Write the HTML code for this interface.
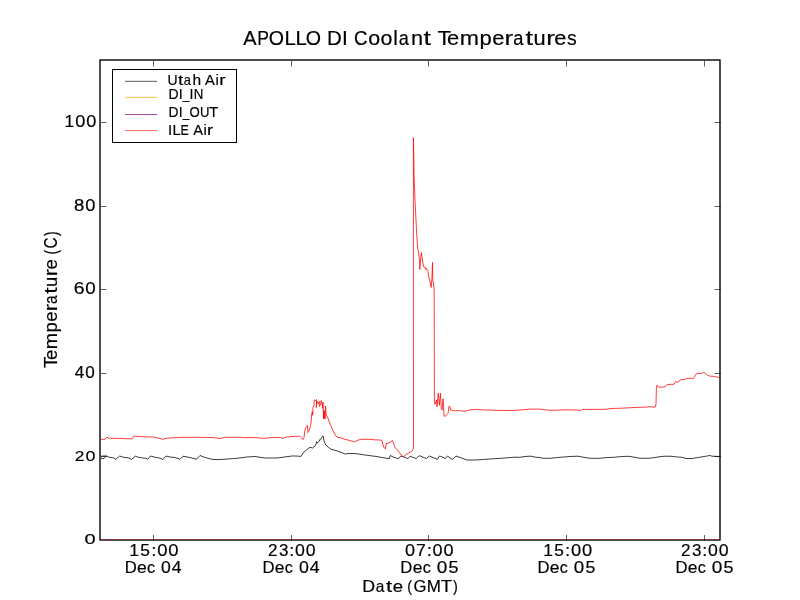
<!DOCTYPE html>
<html><head><meta charset="utf-8"><style>
html,body{margin:0;padding:0;background:#fff;}
svg{display:block;will-change:transform;}
text{font-family:"Liberation Sans",sans-serif;fill:#000;font-kerning:none;stroke:#000;stroke-width:0.18px;}
</style></head><body>
<svg width="800" height="600" viewBox="0 0 800 600">
<rect width="800" height="600" fill="#fff"/>
<defs><clipPath id="ax"><rect x="100" y="60" width="620" height="480"/></clipPath></defs>
<g clip-path="url(#ax)" fill="none" stroke-linejoin="round" stroke-linecap="butt">
<polyline points="106.4,455.9 108.9,457.2 112,457.5 113.9,458.1 115.8,459.25 119.6,456.1 121.75,456.6 123.9,457.4 128,457.8 131.75,459.4 135.2,456.1 138,457.2 141.75,457.8 146.1,458.4 147.5,459.4 150.5,456 155,457.2 160,458.2 163,459.5 166,456 170,457 175,457.5 180,459.3 183,456.2 190,457.5 196.5,459.3 200,455.5 205,457.5 213,459.5 220,459.5 235,458.5 247,457 255,456.5 265,458 277,458 292,456 296,456 301,456.4 303.5,452.5 306,450.25 310,447.25 312.5,448 315,446 316.25,443.5 316.5,441.75 317,443 319.25,441.25 319.5,439.75 320.5,439.75 321.5,438 322,437 322.75,436 323.5,436.5 323.75,440 324.5,442.5 326,445 328.5,447.5 331,449.25 334,450 336,450.5 340,452 346,454.3 347,453.5 355,453.5 365,455 375,456.3 388,458.5 389,459 390.5,455.3 392,456.5 396,458 398,458.7 401,456 404,457 408,458.7 410,456.3 416.3,458.5 419.3,455.7 426.3,458.5 429.3,456 437.3,459.3 439.5,456 445.5,458.5 447.5,456 452.5,459.5 456,456 463,458.5 467,460 475,460 490,459 505,458 515,457.2 520,457.3 525,456.5 530,456.2 532,456.3 535,457.2 540,457.5 543,458.3 550,458.3 560,457.3 570,456.5 578,456.2 582,457 590,458.3 600,458.3 605,457.7 615,457.2 622,456.5 628,456.3 630,456.5 635,457.3 640,458.3 650,458.2 655,457.5 660,456.7 665,456.2 672,456.3 678,457.1 682,457.3 686,458.5 692,458.5 697,457.7 703,456.7 710,455.5 712,456.2 721,456.5" stroke="#000" stroke-width="1.0" stroke-opacity="0.76"/>
<path d="M100,458.4 L104,458.5 L106.4,455.9 M100,456.2 L106.4,455.9" stroke="#000" stroke-width="1.0" stroke-opacity="0.76"/>
<polyline points="99,439.3 105,439.3 106,437.8 107,437.2 108.5,438.2 120,438.5 130,438.8 132,439 133.5,436.5 135,436.2 145,436.8 155,437.2 157,437.8 163,439.3 165,438.8 167,438.2 178,437.5 180,437.4 195,437.3 213,437.5 218,438.3 222,438.3 224,437.3 235,437.3 240,437.2 245,437.8 250,437.4 255,437.6 260,438 265,438.3 270,437.7 275,437.4 280,437.5 283,438.3 286,437.2 287.5,436.3 288.5,437.2 290,436.5 299.5,436.25 301,437.75 303.25,439.5 304,437.5 304.5,433 305,430 306,427.5 307.4,425.4 308,432.5 309.25,430.4 310.5,425.5 311.25,421 311.5,415 312.3,411.5 312.6,415.3 313,411 312.75,408.5 313.25,406.5 314,406 314.25,400 315.5,400.5 316.5,399.5 316.25,407.5 317,401 318.5,404 319.25,401.5 319.5,406.5 320.5,404.5 321.25,400.5 322,403.5 322.5,408.5 323,402 323.25,410 323.5,418.5 323.8,410 324.2,419 324.6,411.5 325,419 325.3,412 325.5,406 326,413 326.5,416 327.5,417 329,421 330.75,425.5 333,430.8 336,436.25 338,437.5 340,437.5 345,439.3 350,440.5 354.5,442 355,441.5 357,440.5 361,439.3 370,439.3 374,439.8 380,440 382,440.5 383,445 384,447.8 385.5,448.5 386,445 386.5,443 388,443.5 392.5,440.5 395,447.5 397,449.5 402,456 403.5,457 405,455.3 409,452.7 412,451.3 413,449.3 413.5,447.7 413.4,137.6 413.9,160 414.1,175 415,200 416.5,230 417.5,247 418.5,252 419.5,260 419.8,269.5 420.5,260 421.4,252.5 423,264 423.8,267 425.5,267.5 426,269.5 426.5,268.5 427.8,270.5 429,278 430.2,282 431.2,287.5 432,277 432.5,262.5 432.8,280 433.5,284 434.2,290 434.4,401.3 435,404.3 436,401.3 436.5,400 437,406.7 438.3,393 439.3,405.3 440.5,393.3 441.3,408.7 442.2,410 443,398.7 443.5,405.3 444,416 445.3,416.3 447,414.3 448,413.3 449,406.7 449.5,406 450.7,410 453,410.5 456,411 458,410.5 462,411 465,411.25 468,410.25 475,409.4 485,410 490,410 495,410.4 510,410.5 520,410 530,409.1 540,409.1 545,409.75 550,410.3 555,410.25 565,409.75 575,410 581,410.4 582,409.4 600,409.4 608,409.1 610,408.5 620,408.25 630,407.75 640,407.25 645,407.2 650,406.7 655,407.2 656,404.3 656.4,387.9 657,385.2 658.5,387.1 662.3,387.2 665.2,386.5 667.1,384.8 670,384.3 673.9,384.3 675.8,381.4 676.8,382.6 681.1,379.7 685.4,379 690.2,378.1 693.1,378.6 694.1,377.8 696,374.2 698,373.3 701.8,373.3 703.7,372.3 705.6,373.5 707.6,375.4 710.4,376.2 714.3,376.4 719.1,377.5 721,377.8" stroke="#f00" stroke-width="1.0" stroke-opacity="0.76"/>
</g>
<g fill="#4e4e4e">
<rect x="100" y="59" width="620" height="2"/>
<rect x="100" y="540" width="620" height="1"/>
<rect x="99" y="60" width="2" height="480"/>
<rect x="719" y="60" width="2" height="480"/>
<rect x="100" y="540" width="1" height="1"/><rect x="719" y="540" width="1" height="1"/>
</g>
<g fill="#8c8c8c"><rect x="99" y="59" width="1" height="1"/><rect x="720" y="59" width="1" height="1"/><rect x="99" y="540" width="1" height="1"/><rect x="720" y="540" width="1" height="1"/></g>
<rect x="101" y="539" width="618" height="1" fill="#87373f"/>
<g fill="#1c1c1c"><rect x="100" y="60" width="1" height="1"/><rect x="719" y="60" width="1" height="1"/></g>
<g fill="#5c1f27"><rect x="100" y="539" width="1" height="1"/><rect x="719" y="539" width="1" height="1"/></g>
<g fill="#000" fill-opacity="0.62">
<rect x="153" y="535" width="1" height="6"/>
<rect x="153" y="61" width="1" height="5"/>
<rect x="153" y="66" width="1" height="1" fill-opacity="0.3"/>
<rect x="291" y="535" width="1" height="6"/>
<rect x="291" y="61" width="1" height="5"/>
<rect x="291" y="66" width="1" height="1" fill-opacity="0.3"/>
<rect x="428" y="535" width="1" height="6"/>
<rect x="428" y="61" width="1" height="5"/>
<rect x="428" y="66" width="1" height="1" fill-opacity="0.3"/>
<rect x="566" y="535" width="1" height="6"/>
<rect x="566" y="61" width="1" height="5"/>
<rect x="566" y="66" width="1" height="1" fill-opacity="0.3"/>
<rect x="704" y="535" width="1" height="6"/>
<rect x="704" y="61" width="1" height="5"/>
<rect x="704" y="66" width="1" height="1" fill-opacity="0.3"/>
<rect x="101" y="122" width="5" height="1"/>
<rect x="106" y="122" width="1" height="1" fill-opacity="0.3"/>
<rect x="715" y="122" width="6" height="1"/>
<rect x="714" y="122" width="1" height="1" fill-opacity="0.3"/>
<rect x="101" y="206" width="5" height="1"/>
<rect x="106" y="206" width="1" height="1" fill-opacity="0.3"/>
<rect x="715" y="206" width="6" height="1"/>
<rect x="714" y="206" width="1" height="1" fill-opacity="0.3"/>
<rect x="101" y="289" width="5" height="1"/>
<rect x="106" y="289" width="1" height="1" fill-opacity="0.3"/>
<rect x="715" y="289" width="6" height="1"/>
<rect x="714" y="289" width="1" height="1" fill-opacity="0.3"/>
<rect x="101" y="373" width="5" height="1"/>
<rect x="106" y="373" width="1" height="1" fill-opacity="0.3"/>
<rect x="715" y="373" width="6" height="1"/>
<rect x="714" y="373" width="1" height="1" fill-opacity="0.3"/>
<rect x="101" y="456" width="5" height="1"/>
<rect x="106" y="456" width="1" height="1" fill-opacity="0.3"/>
<rect x="715" y="456" width="6" height="1"/>
<rect x="714" y="456" width="1" height="1" fill-opacity="0.3"/>
</g>
<rect x="112.5" y="69.5" width="124" height="73" fill="#fff" stroke="#000" stroke-width="1"/>
<rect x="125" y="80" width="32" height="1" fill="#e2e2e2"/>
<rect x="125" y="81" width="32" height="1" fill="#777"/>
<rect x="125" y="96" width="32" height="1" fill="#fff5e2"/>
<rect x="125" y="97" width="32" height="1" fill="#ffc965"/>
<rect x="125" y="114" width="32" height="1" fill="#a548a8"/>
<rect x="125" y="130" width="32" height="1" fill="#ff7878"/>
<rect x="125" y="131" width="32" height="1" fill="#fff0f0"/>
<text transform="translate(243.16,45.00) scale(0.972,1)" font-size="20.567">A</text>
<text transform="translate(257.13,45.00) scale(0.853,1)" font-size="20.567">P</text>
<text transform="translate(268.77,45.00) scale(0.954,1)" font-size="20.567">O</text>
<text transform="translate(284.47,45.00) scale(0.992,1)" font-size="20.567">L</text>
<text transform="translate(295.52,45.00) scale(0.992,1)" font-size="20.567">L</text>
<text transform="translate(305.78,45.00) scale(0.954,1)" font-size="20.567">O</text>
<text transform="translate(327.06,45.00) scale(0.999,1)" font-size="20.567">D</text>
<text transform="translate(342.10,45.00) scale(1.021,1)" font-size="20.567">I</text>
<text transform="translate(354.05,45.00) scale(0.910,1)" font-size="20.567">C</text>
<text transform="translate(368.16,45.00) scale(1.042,1)" font-size="20.567">o</text>
<text transform="translate(380.50,45.00) scale(1.042,1)" font-size="20.567">o</text>
<text transform="translate(393.14,45.00) scale(1.002,1)" font-size="20.567">l</text>
<text transform="translate(398.67,45.00) scale(0.882,1)" font-size="20.567">a</text>
<text transform="translate(410.98,45.00) scale(1.057,1)" font-size="20.567">n</text>
<text transform="translate(423.51,45.00) scale(1.311,1)" font-size="20.567">t</text>
<text transform="translate(437.40,45.00) scale(1.075,1)" font-size="20.567">T</text>
<text transform="translate(447.09,45.00) scale(1.065,1)" font-size="20.567">e</text>
<text transform="translate(459.69,45.00) scale(1.123,1)" font-size="20.567">m</text>
<text transform="translate(479.55,45.00) scale(1.073,1)" font-size="20.567">p</text>
<text transform="translate(492.20,45.00) scale(1.065,1)" font-size="20.567">e</text>
<text transform="translate(504.60,45.00) scale(1.263,1)" font-size="20.567">r</text>
<text transform="translate(513.27,45.00) scale(0.887,1)" font-size="20.567">a</text>
<text transform="translate(525.38,45.00) scale(1.318,1)" font-size="20.567">t</text>
<text transform="translate(533.50,45.00) scale(1.063,1)" font-size="20.567">u</text>
<text transform="translate(546.17,45.00) scale(1.263,1)" font-size="20.567">r</text>
<text transform="translate(554.14,45.00) scale(1.065,1)" font-size="20.567">e</text>
<text transform="translate(566.98,45.00) scale(0.945,1)" font-size="20.567">s</text>
<text transform="translate(64.43,126.59) scale(1.036,1)" font-size="16.737">1</text>
<text transform="translate(75.25,126.59) scale(1.085,1)" font-size="16.737">0</text>
<text transform="translate(86.21,126.59) scale(1.085,1)" font-size="16.737">0</text>
<text transform="translate(74.09,210.59) scale(1.141,1)" font-size="16.243">8</text>
<text transform="translate(85.22,210.59) scale(1.129,1)" font-size="16.243">0</text>
<text transform="translate(73.76,293.83) scale(1.147,1)" font-size="16.949">6</text>
<text transform="translate(85.29,293.83) scale(1.108,1)" font-size="16.949">0</text>
<text transform="translate(74.86,377.59) scale(1.029,1)" font-size="16.596">4</text>
<text transform="translate(85.17,377.59) scale(1.029,1)" font-size="16.596">0</text>
<text transform="translate(74.73,460.95) scale(1.114,1)" font-size="15.537">2</text>
<text transform="translate(85.61,460.95) scale(1.156,1)" font-size="15.537">0</text>
<text transform="translate(84.52,544.45) scale(1.293,1)" font-size="15.537">0</text>
<text transform="translate(129.16,555.84) scale(1.056,1)" font-size="16.666">1</text>
<text transform="translate(140.35,555.84) scale(1.044,1)" font-size="16.666">5</text>
<text transform="translate(151.15,555.84) scale(1.135,1)" font-size="16.666">:</text>
<text transform="translate(157.15,555.84) scale(1.106,1)" font-size="16.666">0</text>
<text transform="translate(168.27,555.84) scale(1.106,1)" font-size="16.666">0</text>
<text transform="translate(124.63,572.60) scale(1.026,1)" font-size="16.279">D</text>
<text transform="translate(137.00,572.60) scale(1.071,1)" font-size="16.279">e</text>
<text transform="translate(146.98,572.60) scale(0.995,1)" font-size="16.279">c</text>
<text transform="translate(161.11,572.74) scale(1.065,1)" font-size="16.525">0</text>
<text transform="translate(171.73,572.74) scale(1.065,1)" font-size="16.525">4</text>
<text transform="translate(267.94,555.84) scale(1.023,1)" font-size="16.666">2</text>
<text transform="translate(278.88,555.84) scale(1.019,1)" font-size="16.666">3</text>
<text transform="translate(289.23,555.84) scale(1.089,1)" font-size="16.666">:</text>
<text transform="translate(294.98,555.84) scale(1.061,1)" font-size="16.666">0</text>
<text transform="translate(305.66,555.84) scale(1.061,1)" font-size="16.666">0</text>
<text transform="translate(262.43,572.60) scale(1.026,1)" font-size="16.279">D</text>
<text transform="translate(274.80,572.60) scale(1.071,1)" font-size="16.279">e</text>
<text transform="translate(284.78,572.60) scale(0.995,1)" font-size="16.279">c</text>
<text transform="translate(298.91,572.74) scale(1.076,1)" font-size="16.525">0</text>
<text transform="translate(309.63,572.74) scale(1.076,1)" font-size="16.525">4</text>
<text transform="translate(404.99,555.84) scale(1.083,1)" font-size="16.666">0</text>
<text transform="translate(415.97,555.84) scale(1.060,1)" font-size="16.666">7</text>
<text transform="translate(426.68,555.84) scale(1.112,1)" font-size="16.666">:</text>
<text transform="translate(432.56,555.84) scale(1.083,1)" font-size="16.666">0</text>
<text transform="translate(443.46,555.84) scale(1.083,1)" font-size="16.666">0</text>
<text transform="translate(400.33,572.60) scale(1.026,1)" font-size="16.279">D</text>
<text transform="translate(412.70,572.60) scale(1.071,1)" font-size="16.279">e</text>
<text transform="translate(422.68,572.60) scale(0.995,1)" font-size="16.279">c</text>
<text transform="translate(436.76,572.74) scale(1.151,1)" font-size="16.525">0</text>
<text transform="translate(448.47,572.74) scale(1.087,1)" font-size="16.525">5</text>
<text transform="translate(543.17,555.84) scale(1.049,1)" font-size="16.666">1</text>
<text transform="translate(554.29,555.84) scale(1.037,1)" font-size="16.666">5</text>
<text transform="translate(565.02,555.84) scale(1.128,1)" font-size="16.666">:</text>
<text transform="translate(570.98,555.84) scale(1.099,1)" font-size="16.666">0</text>
<text transform="translate(582.03,555.84) scale(1.099,1)" font-size="16.666">0</text>
<text transform="translate(537.43,572.60) scale(1.026,1)" font-size="16.279">D</text>
<text transform="translate(549.80,572.60) scale(1.071,1)" font-size="16.279">e</text>
<text transform="translate(559.78,572.60) scale(0.995,1)" font-size="16.279">c</text>
<text transform="translate(573.87,572.74) scale(1.134,1)" font-size="16.525">0</text>
<text transform="translate(585.40,572.74) scale(1.070,1)" font-size="16.525">5</text>
<text transform="translate(680.94,555.84) scale(1.023,1)" font-size="16.666">2</text>
<text transform="translate(691.88,555.84) scale(1.019,1)" font-size="16.666">3</text>
<text transform="translate(702.23,555.84) scale(1.089,1)" font-size="16.666">:</text>
<text transform="translate(707.98,555.84) scale(1.061,1)" font-size="16.666">0</text>
<text transform="translate(718.66,555.84) scale(1.061,1)" font-size="16.666">0</text>
<text transform="translate(675.43,572.60) scale(1.026,1)" font-size="16.279">D</text>
<text transform="translate(687.80,572.60) scale(1.071,1)" font-size="16.279">e</text>
<text transform="translate(697.78,572.60) scale(0.995,1)" font-size="16.279">c</text>
<text transform="translate(711.86,572.74) scale(1.151,1)" font-size="16.525">0</text>
<text transform="translate(723.57,572.74) scale(1.087,1)" font-size="16.525">5</text>
<text transform="translate(362.29,591.60) scale(1.093,1)" font-size="16.279">D</text>
<text transform="translate(375.68,591.60) scale(0.950,1)" font-size="16.279">a</text>
<text transform="translate(386.10,591.60) scale(1.350,1)" font-size="16.279">t</text>
<text transform="translate(392.74,591.60) scale(1.141,1)" font-size="16.279">e</text>
<text transform="translate(407.20,591.60) scale(0.887,1)" font-size="16.279">(</text>
<text transform="translate(413.42,591.60) scale(1.023,1)" font-size="16.279">G</text>
<text transform="translate(426.81,591.60) scale(1.046,1)" font-size="16.279">M</text>
<text transform="translate(440.80,591.60) scale(1.144,1)" font-size="16.279">T</text>
<text transform="translate(452.99,591.60) scale(0.887,1)" font-size="16.279">)</text>
<text transform="translate(167.62,84.75) scale(0.990,1)" font-size="14.172">U</text>
<text transform="translate(178.01,84.75) scale(1.347,1)" font-size="14.172">t</text>
<text transform="translate(183.82,84.75) scale(0.906,1)" font-size="14.172">a</text>
<text transform="translate(192.48,84.75) scale(1.094,1)" font-size="14.172">h</text>
<text transform="translate(205.07,84.75) scale(1.041,1)" font-size="14.172">A</text>
<text transform="translate(215.39,84.75) scale(1.057,1)" font-size="14.172">i</text>
<text transform="translate(219.16,84.75) scale(1.324,1)" font-size="14.172">r</text>
<text transform="translate(168.60,98.75) scale(0.985,1)" font-size="14.172">D</text>
<text transform="translate(178.83,98.75) scale(1.007,1)" font-size="14.172">I</text>
<text transform="translate(182.85,98.75) scale(0.849,1)" font-size="14.172">_</text>
<text transform="translate(189.55,98.75) scale(1.007,1)" font-size="14.172">I</text>
<text transform="translate(193.76,98.75) scale(0.941,1)" font-size="14.172">N</text>
<text transform="translate(168.62,116.90) scale(0.970,1)" font-size="14.244">D</text>
<text transform="translate(178.73,116.90) scale(0.991,1)" font-size="14.244">I</text>
<text transform="translate(182.71,116.90) scale(0.836,1)" font-size="14.244">_</text>
<text transform="translate(189.45,116.90) scale(0.926,1)" font-size="14.244">O</text>
<text transform="translate(199.98,116.90) scale(0.921,1)" font-size="14.244">U</text>
<text transform="translate(209.24,116.90) scale(1.022,1)" font-size="14.244">T</text>
<text transform="translate(168.01,134.85) scale(1.051,1)" font-size="14.317">I</text>
<text transform="translate(172.39,134.85) scale(1.022,1)" font-size="14.317">L</text>
<text transform="translate(180.51,134.85) scale(0.861,1)" font-size="14.317">E</text>
<text transform="translate(193.17,134.85) scale(1.020,1)" font-size="14.317">A</text>
<text transform="translate(203.38,134.85) scale(1.035,1)" font-size="14.317">i</text>
<text transform="translate(207.12,134.85) scale(1.298,1)" font-size="14.317">r</text>
<text transform="translate(57.00,368.12) rotate(-90) scale(1.072,1)" font-size="17.442">T</text>
<text transform="translate(57.00,359.93) rotate(-90) scale(1.061,1)" font-size="17.442">e</text>
<text transform="translate(57.00,349.29) rotate(-90) scale(1.120,1)" font-size="17.442">m</text>
<text transform="translate(57.00,332.50) rotate(-90) scale(1.069,1)" font-size="17.442">p</text>
<text transform="translate(57.00,321.82) rotate(-90) scale(1.061,1)" font-size="17.442">e</text>
<text transform="translate(57.00,311.33) rotate(-90) scale(1.259,1)" font-size="17.442">r</text>
<text transform="translate(57.00,304.01) rotate(-90) scale(0.884,1)" font-size="17.442">a</text>
<text transform="translate(57.00,293.77) rotate(-90) scale(1.313,1)" font-size="17.442">t</text>
<text transform="translate(57.00,286.91) rotate(-90) scale(1.059,1)" font-size="17.442">u</text>
<text transform="translate(57.00,276.20) rotate(-90) scale(1.259,1)" font-size="17.442">r</text>
<text transform="translate(57.00,269.47) rotate(-90) scale(1.061,1)" font-size="17.442">e</text>
<text transform="translate(57.00,254.56) rotate(-90) scale(0.794,1)" font-size="17.442">(</text>
<text transform="translate(57.00,248.57) rotate(-90) scale(0.872,1)" font-size="17.442">C</text>
<text transform="translate(57.00,236.05) rotate(-90) scale(0.794,1)" font-size="17.442">)</text>
</svg>
</body></html>
